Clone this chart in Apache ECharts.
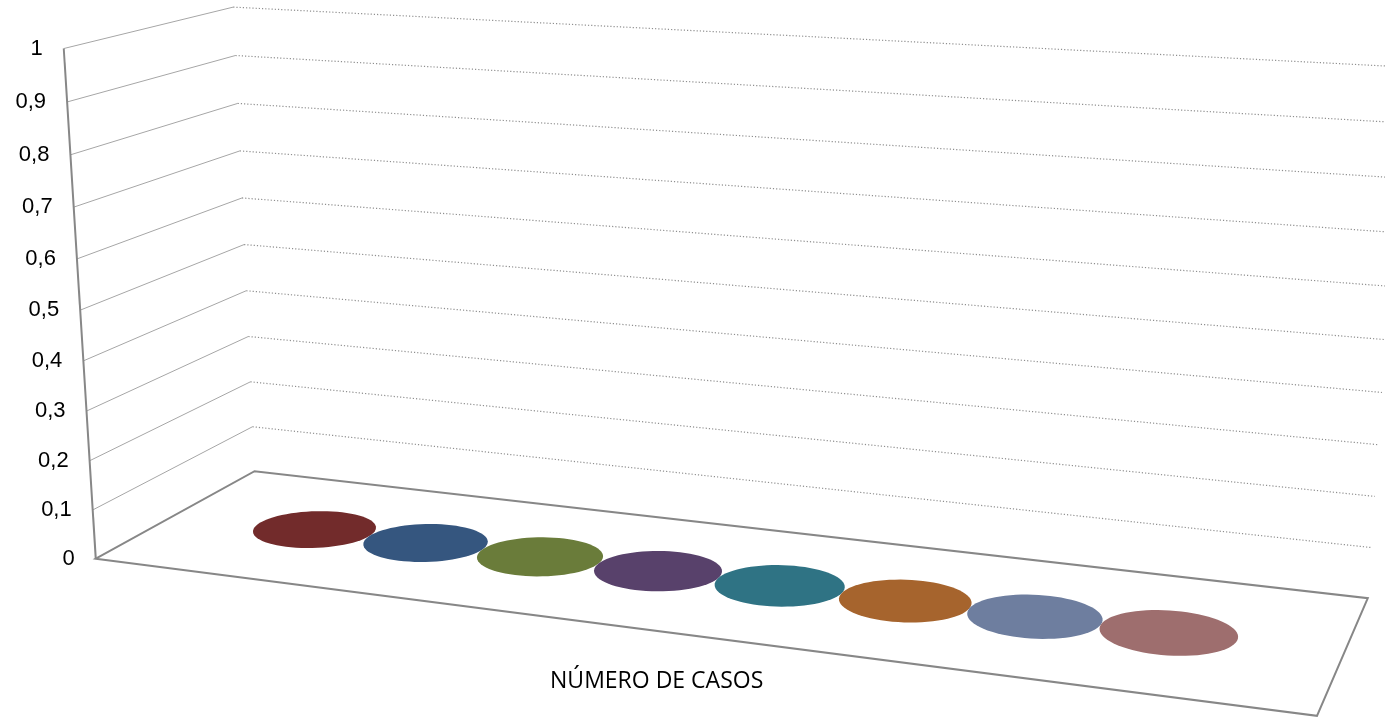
<!DOCTYPE html>
<html><head><meta charset="utf-8">
<script src="https://cdn.jsdelivr.net/npm/echarts@6/dist/echarts.min.js"></script>
<style>html,body{margin:0;padding:0;background:#fff}#c{width:1385px;height:718px}</style>
</head><body><div id="c"></div>
<script>
// ---- data ----
const categories = ['NÚMERO DE CASOS'];
const seriesNames = ['Serie 1','Serie 2','Serie 3','Serie 4','Serie 5','Serie 6','Serie 7','Serie 8'];
const seriesValues = [0,0,0,0,0,0,0,0];
const yTickValues = [0,0.1,0.2,0.3,0.4,0.5,0.6,0.7,0.8,0.9,1];
const yTickLabels = ['0','0,1','0,2','0,3','0,4','0,5','0,6','0,7','0,8','0,9','1'];

// ---- styles ----
const seriesColors = ['#722b2b','#35567f','#6a7c3a','#58416b','#2f7384','#a6642d','#6e7e9f','#9e6e6e'];

// ---- perspective calibration of the unit box: [X(width), Y(value), Z(depth), px, py] ----
const calib = [
  [0,0,0,95,559],[0,1,0,63,49],[0,0.6,0,78,259],[0,0.5,0,81,310],[0,0.4,0,83,360],
  [0,0,1,254,471],[0,1,1,233,7],[0,0.5,1,243,244],[0,0.4,1,247,291],[0,0.3,1,249,337],[0,0.1,1,253,427],
  [1,0,0,1317,716],[1,0,1,1367,599],[1,0.1,1,1372,546],[1,0.4,1,1382,393]
];
const BAR_STEP = 0.105, R_X = 0.0525, R_Z = 0.19, Z_C = 0.5;

function solveLin(M, b){
  const n = b.length;
  for (let i=0;i<n;i++){
    let p=i; for (let r=i+1;r<n;r++) if (Math.abs(M[r][i])>Math.abs(M[p][i])) p=r;
    [M[i],M[p]]=[M[p],M[i]]; [b[i],b[p]]=[b[p],b[i]];
    for (let r=i+1;r<n;r++){ const f=M[r][i]/M[i][i]; for (let c=i;c<n;c++) M[r][c]-=f*M[i][c]; b[r]-=f*b[i]; }
  }
  const x=new Array(n).fill(0);
  for (let i=n-1;i>=0;i--){ let s=b[i]; for (let c=i+1;c<n;c++) s-=M[i][c]*x[c]; x[i]=s/M[i][i]; }
  return x;
}
const S=700, OU=700, OV=360;
const P = (function(){
  const ATA=[...Array(11)].map(()=>new Array(11).fill(0)), ATb=new Array(11).fill(0);
  function add(row, r){ for(let i=0;i<11;i++){ ATb[i]+=row[i]*r; for(let j=0;j<11;j++) ATA[i][j]+=row[i]*row[j]; } }
  calib.forEach(([X,Y,Z,u,v])=>{
    const un=(u-OU)/S, vn=(v-OV)/S;
    add([X,Y,Z,1,0,0,0,0,-un*X,-un*Y,-un*Z], un);
    add([0,0,0,0,X,Y,Z,1,-vn*X,-vn*Y,-vn*Z], vn);
  });
  return solveLin(ATA, ATb);
})();
function proj(X,Y,Z){
  const w=P[8]*X+P[9]*Y+P[10]*Z+1;
  return [(P[0]*X+P[1]*Y+P[2]*Z+P[3])/w*S+OU, (P[4]*X+P[5]*Y+P[6]*Z+P[7])/w*S+OV];
}
function hull(pts){
  pts=pts.slice().sort((a,b)=>a[0]-b[0]||a[1]-b[1]);
  const cr=(o,a,b)=>(a[0]-o[0])*(b[1]-o[1])-(a[1]-o[1])*(b[0]-o[0]);
  const lo=[],up=[];
  for(const p of pts){ while(lo.length>=2&&cr(lo[lo.length-2],lo[lo.length-1],p)<=0) lo.pop(); lo.push(p); }
  for(let i=pts.length-1;i>=0;i--){ const p=pts[i]; while(up.length>=2&&cr(up[up.length-2],up[up.length-1],p)<=0) up.pop(); up.push(p); }
  up.pop(); lo.pop(); return lo.concat(up);
}
function unitY(cs, py){ return (cs.y+cs.height-py)/cs.height; }
function unitX(cs, px){ return (px-cs.x)/cs.width; }

const GRID_SOLID = '#a6a6a6', GRID_DOT = '#8f8f8f', EDGE = '#878787';

const series = [];
// walls: gridlines + tick labels
series.push({
  type:'custom', name:'walls', z:1, silent:true,
  data: yTickValues.map((v,i)=>[0,v,i]),
  renderItem(params, api){
    const cs=params.coordSys;
    const Y=unitY(cs, api.coord([0, api.value(1)])[1]);
    const ch=[];
    const a=proj(0,Y,0), b=proj(0,Y,1), c=proj(1,Y,1);
    if (Y>1e-6){
      ch.push({type:'line', shape:{x1:a[0],y1:a[1],x2:b[0],y2:b[1]}, style:{stroke:GRID_SOLID,lineWidth:1}});
      ch.push({type:'line', shape:{x1:b[0],y1:b[1],x2:c[0],y2:c[1]}, style:{stroke:GRID_DOT,lineWidth:1.2,lineDash:[1.2,2]}});
    }
    ch.push({type:'text', style:{text:yTickLabels[api.value(2)], x:a[0]-21, y:a[1], align:'right', verticalAlign:'middle',
      font:'22px "Liberation Sans", Arial, sans-serif', fill:'#000'}});
    return {type:'group', children:ch};
  }
});
// floor + front axis + category label
series.push({
  type:'custom', name:'floor', z:2, silent:true,
  data: categories.map((c,i)=>[i,0]),
  renderItem(params, api){
    const cs=params.coordSys;
    const Xc=unitX(cs, api.coord([api.value(0),0])[0]);
    const f=[proj(0,0,0),proj(1,0,0),proj(1,0,1),proj(0,0,1)];
    const t=proj(0,1,0);
    const lab=proj(Xc,0,0);
    return {type:'group', children:[
      {type:'polygon', shape:{points:f}, style:{fill:'#fff', stroke:EDGE, lineWidth:2}},
      {type:'line', shape:{x1:f[0][0],y1:f[0][1],x2:t[0],y2:t[1]}, style:{stroke:EDGE,lineWidth:2}},
      {type:'text', style:{text:categories[api.value(0)], x:lab[0]-2, y:lab[1]+50, align:'center', verticalAlign:'middle',
        font:'23px "Open Sans", sans-serif', fill:'#000'}}
    ]};
  }
});
// cylinders
seriesNames.forEach((name, si)=>{
  series.push({
    type:'custom', name, z:3+si, silent:true,
    itemStyle:{color:seriesColors[si]},
    data: categories.map((c,i)=>[i, seriesValues[si]]),
    renderItem(params, api){
      const cs=params.coordSys;
      const pt=api.coord([api.value(0), api.value(1)]);
      const band=api.size([1,0])[0];
      const Xc=unitX(cs, pt[0]) + (si-(seriesNames.length-1)/2)*BAR_STEP*band/cs.width;
      const Yt=unitY(cs, pt[1]);
      const col=api.visual('color');
      const top=[], bot=[];
      for(let k=0;k<72;k++){ const t=k/72*Math.PI*2;
        const X=Xc+R_X*Math.cos(t), Z=Z_C+R_Z*Math.sin(t);
        top.push(proj(X,Yt,Z)); bot.push(proj(X,0,Z)); }
      const ch=[];
      if (Yt>1e-6) ch.push({type:'polygon', shape:{points:hull(top.concat(bot))}, style:{fill:echarts.color.lift(col,-0.15)}});
      ch.push({type:'polygon', shape:{points:top}, style:{fill:col}});
      return {type:'group', children:ch};
    }
  });
});

const chart = echarts.init(document.getElementById('c'), null, {renderer:'canvas'});
chart.setOption({
  animation:false,
  grid:{left:0,right:0,top:0,bottom:0},
  xAxis:{type:'category', data:categories, show:false},
  yAxis:{type:'value', min:0, max:1, interval:0.1, show:false},
  series
});
</script></body></html>
